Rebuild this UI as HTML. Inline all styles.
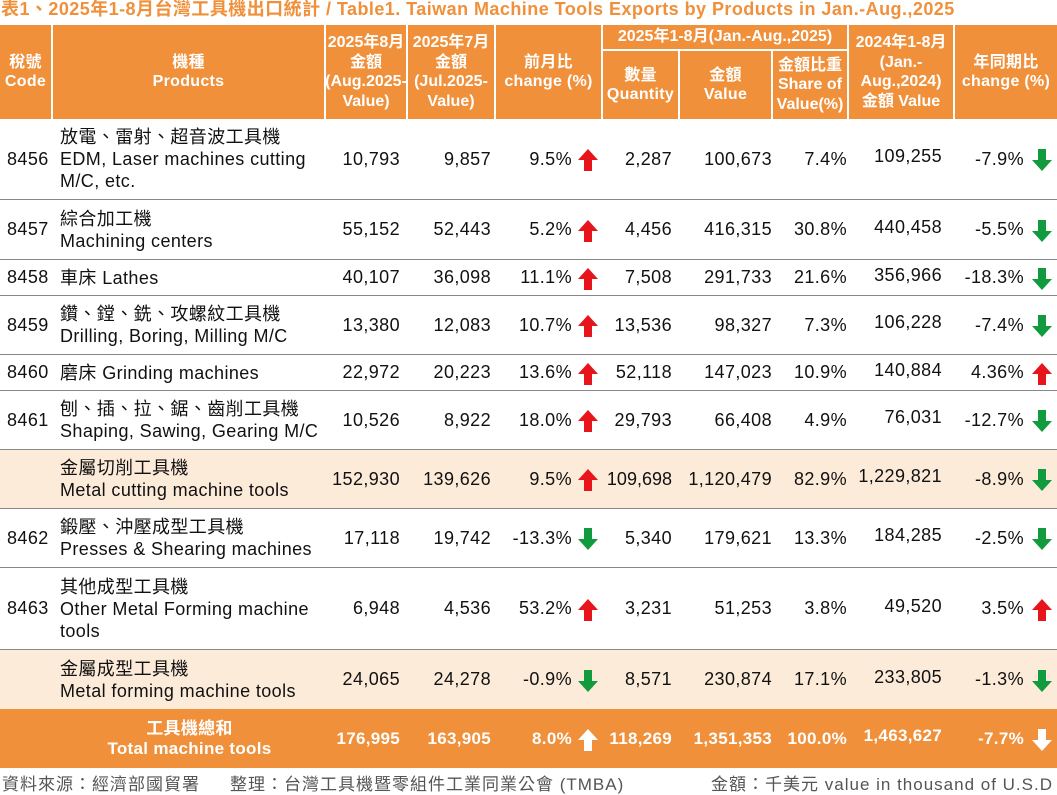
<!DOCTYPE html>
<html><head><meta charset="utf-8">
<style>
*{margin:0;padding:0;box-sizing:border-box}
body{width:1057px;height:793px;background:#fff;font-family:"Liberation Sans","Noto Sans CJK TC",sans-serif;position:relative;overflow:hidden;color:#111}
.title{position:absolute;left:1px;top:-1px;font-size:18px;letter-spacing:0.45px;font-weight:bold;color:#f0903a;white-space:nowrap;line-height:21px}
.hd{position:absolute;top:25px;left:0;width:1057px;height:94px;background:#f0903a}
.h{position:absolute;color:#fff;font-weight:bold;font-size:16px;letter-spacing:0.3px;line-height:19.5px;text-align:center;display:flex;align-items:center;justify-content:center;border-right:2px solid #fff}
.row{position:absolute;left:0;width:1057px;border-bottom:1px solid #888;font-size:18px;letter-spacing:0.4px}
.sh{background:#fdebd9}
.tot{background:#f0903a;color:#fff;font-weight:bold;border-bottom:none}
.c{position:absolute;top:0;bottom:0;display:flex;align-items:center;white-space:nowrap}
.r{justify-content:flex-end}
.p{line-height:22px}
svg{display:block;margin-top:2px}
.foot{position:absolute;top:770px;font-size:17px;letter-spacing:1px;color:#555;white-space:nowrap}
</style></head><body>
<div class="title">表1、2025年1-8月台灣工具機出口統計 / Table1. Taiwan Machine Tools Exports by Products in Jan.-Aug.,2025</div>
<div class="hd">
<div class="h" style="left:0;top:0;width:53px;height:94px">稅號<br>Code</div>
<div class="h" style="left:53px;top:0;width:273px;height:94px">機種<br>Products</div>
<div class="h" style="left:326px;top:0;width:82px;height:94px;letter-spacing:0">2025年8月<br>金額<br>(Aug.2025-<br>Value)</div>
<div class="h" style="left:408px;top:0;width:88px;height:94px;letter-spacing:0">2025年7月<br>金額<br>(Jul.2025-<br>Value)</div>
<div class="h" style="left:496px;top:0;width:107px;height:94px">前月比<br>change (%)</div>
<div class="h" style="left:603px;top:0;width:246px;height:26px;border-bottom:2px solid #fff;letter-spacing:0">2025年1-8月(Jan.-Aug.,2025)</div>
<div class="h" style="left:603px;top:26px;width:77px;height:68px">數量<br>Quantity</div>
<div class="h" style="left:680px;top:26px;width:93px;height:68px">金額<br>Value</div>
<div class="h" style="left:773px;top:26px;width:76px;height:68px;letter-spacing:0">金額比重<br>Share of<br>Value(%)</div>
<div class="h" style="left:849px;top:0;width:106px;height:94px;letter-spacing:0">2024年1-8月<br>(Jan.-<br>Aug.,2024)<br>金額 Value</div>
<div class="h" style="left:955px;top:0;width:102px;height:94px;border-right:none">年同期比<br>change (%)</div>
</div>

<div class="row" style="top:119px;height:81px">
<div class="c" style="left:7px">8456</div>
<div class="c p" style="left:60px">放電、雷射、超音波工具機<br>EDM, Laser machines cutting<br>M/C, etc.</div>
<div class="c r" style="right:657px">10,793</div><div class="c r" style="right:566px">9,857</div>
<div class="c r" style="right:485px">9.5%</div><div class="c" style="left:578px"><svg width="20" height="22"><polygon points="10,0 20,11 14,11 14,22 6,22 6,11 0,11" fill="#e8141c"/></svg></div>
<div class="c r" style="right:385px">2,287</div><div class="c r" style="right:285px">100,673</div><div class="c r" style="right:210px">7.4%</div>
<div class="c r" style="right:115px;padding-bottom:5px">109,255</div>
<div class="c r" style="right:33px">-7.9%</div><div class="c" style="left:1032px"><svg width="20" height="22"><polygon points="10,22 20,11 14,11 14,0 6,0 6,11 0,11" fill="#119a3e"/></svg></div>
</div>

<div class="row" style="top:200px;height:60px">
<div class="c" style="left:7px">8457</div>
<div class="c p" style="left:60px">綜合加工機<br>Machining centers</div>
<div class="c r" style="right:657px">55,152</div><div class="c r" style="right:566px">52,443</div>
<div class="c r" style="right:485px">5.2%</div><div class="c" style="left:578px"><svg width="20" height="22"><polygon points="10,0 20,11 14,11 14,22 6,22 6,11 0,11" fill="#e8141c"/></svg></div>
<div class="c r" style="right:385px">4,456</div><div class="c r" style="right:285px">416,315</div><div class="c r" style="right:210px">30.8%</div>
<div class="c r" style="right:115px;padding-bottom:5px">440,458</div>
<div class="c r" style="right:33px">-5.5%</div><div class="c" style="left:1032px"><svg width="20" height="22"><polygon points="10,22 20,11 14,11 14,0 6,0 6,11 0,11" fill="#119a3e"/></svg></div>
</div>

<div class="row" style="top:260px;height:36px">
<div class="c" style="left:7px">8458</div>
<div class="c p" style="left:60px">車床 Lathes</div>
<div class="c r" style="right:657px">40,107</div><div class="c r" style="right:566px">36,098</div>
<div class="c r" style="right:485px">11.1%</div><div class="c" style="left:578px"><svg width="20" height="22"><polygon points="10,0 20,11 14,11 14,22 6,22 6,11 0,11" fill="#e8141c"/></svg></div>
<div class="c r" style="right:385px">7,508</div><div class="c r" style="right:285px">291,733</div><div class="c r" style="right:210px">21.6%</div>
<div class="c r" style="right:115px;padding-bottom:5px">356,966</div>
<div class="c r" style="right:33px">-18.3%</div><div class="c" style="left:1032px"><svg width="20" height="22"><polygon points="10,22 20,11 14,11 14,0 6,0 6,11 0,11" fill="#119a3e"/></svg></div>
</div>

<div class="row" style="top:296px;height:59px">
<div class="c" style="left:7px">8459</div>
<div class="c p" style="left:60px">鑽、鏜、銑、攻螺紋工具機<br>Drilling, Boring, Milling M/C</div>
<div class="c r" style="right:657px">13,380</div><div class="c r" style="right:566px">12,083</div>
<div class="c r" style="right:485px">10.7%</div><div class="c" style="left:578px"><svg width="20" height="22"><polygon points="10,0 20,11 14,11 14,22 6,22 6,11 0,11" fill="#e8141c"/></svg></div>
<div class="c r" style="right:385px">13,536</div><div class="c r" style="right:285px">98,327</div><div class="c r" style="right:210px">7.3%</div>
<div class="c r" style="right:115px;padding-bottom:5px">106,228</div>
<div class="c r" style="right:33px">-7.4%</div><div class="c" style="left:1032px"><svg width="20" height="22"><polygon points="10,22 20,11 14,11 14,0 6,0 6,11 0,11" fill="#119a3e"/></svg></div>
</div>

<div class="row" style="top:355px;height:36px">
<div class="c" style="left:7px">8460</div>
<div class="c p" style="left:60px">磨床 Grinding machines</div>
<div class="c r" style="right:657px">22,972</div><div class="c r" style="right:566px">20,223</div>
<div class="c r" style="right:485px">13.6%</div><div class="c" style="left:578px"><svg width="20" height="22"><polygon points="10,0 20,11 14,11 14,22 6,22 6,11 0,11" fill="#e8141c"/></svg></div>
<div class="c r" style="right:385px">52,118</div><div class="c r" style="right:285px">147,023</div><div class="c r" style="right:210px">10.9%</div>
<div class="c r" style="right:115px;padding-bottom:5px">140,884</div>
<div class="c r" style="right:33px">4.36%</div><div class="c" style="left:1032px"><svg width="20" height="22"><polygon points="10,0 20,11 14,11 14,22 6,22 6,11 0,11" fill="#e8141c"/></svg></div>
</div>

<div class="row" style="top:391px;height:59px">
<div class="c" style="left:7px">8461</div>
<div class="c p" style="left:60px">刨、插、拉、鋸、齒削工具機<br>Shaping, Sawing, Gearing M/C</div>
<div class="c r" style="right:657px">10,526</div><div class="c r" style="right:566px">8,922</div>
<div class="c r" style="right:485px">18.0%</div><div class="c" style="left:578px"><svg width="20" height="22"><polygon points="10,0 20,11 14,11 14,22 6,22 6,11 0,11" fill="#e8141c"/></svg></div>
<div class="c r" style="right:385px">29,793</div><div class="c r" style="right:285px">66,408</div><div class="c r" style="right:210px">4.9%</div>
<div class="c r" style="right:115px;padding-bottom:5px">76,031</div>
<div class="c r" style="right:33px">-12.7%</div><div class="c" style="left:1032px"><svg width="20" height="22"><polygon points="10,22 20,11 14,11 14,0 6,0 6,11 0,11" fill="#119a3e"/></svg></div>
</div>

<div class="row sh" style="top:450px;height:59px">
<div class="c p" style="left:60px">金屬切削工具機<br>Metal cutting machine tools</div>
<div class="c r" style="right:657px">152,930</div><div class="c r" style="right:566px">139,626</div>
<div class="c r" style="right:485px">9.5%</div><div class="c" style="left:578px"><svg width="20" height="22"><polygon points="10,0 20,11 14,11 14,22 6,22 6,11 0,11" fill="#e8141c"/></svg></div>
<div class="c r" style="right:385px;letter-spacing:0">109,698</div><div class="c r" style="right:285px">1,120,479</div><div class="c r" style="right:210px">82.9%</div>
<div class="c r" style="right:115px;padding-bottom:5px">1,229,821</div>
<div class="c r" style="right:33px">-8.9%</div><div class="c" style="left:1032px"><svg width="20" height="22"><polygon points="10,22 20,11 14,11 14,0 6,0 6,11 0,11" fill="#119a3e"/></svg></div>
</div>

<div class="row" style="top:509px;height:59px">
<div class="c" style="left:7px">8462</div>
<div class="c p" style="left:60px">鍛壓、沖壓成型工具機<br>Presses &amp; Shearing machines</div>
<div class="c r" style="right:657px">17,118</div><div class="c r" style="right:566px">19,742</div>
<div class="c r" style="right:485px">-13.3%</div><div class="c" style="left:578px"><svg width="20" height="22"><polygon points="10,22 20,11 14,11 14,0 6,0 6,11 0,11" fill="#119a3e"/></svg></div>
<div class="c r" style="right:385px">5,340</div><div class="c r" style="right:285px">179,621</div><div class="c r" style="right:210px">13.3%</div>
<div class="c r" style="right:115px;padding-bottom:5px">184,285</div>
<div class="c r" style="right:33px">-2.5%</div><div class="c" style="left:1032px"><svg width="20" height="22"><polygon points="10,22 20,11 14,11 14,0 6,0 6,11 0,11" fill="#119a3e"/></svg></div>
</div>

<div class="row" style="top:568px;height:82px">
<div class="c" style="left:7px">8463</div>
<div class="c p" style="left:60px">其他成型工具機<br>Other Metal Forming machine<br>tools</div>
<div class="c r" style="right:657px">6,948</div><div class="c r" style="right:566px">4,536</div>
<div class="c r" style="right:485px">53.2%</div><div class="c" style="left:578px"><svg width="20" height="22"><polygon points="10,0 20,11 14,11 14,22 6,22 6,11 0,11" fill="#e8141c"/></svg></div>
<div class="c r" style="right:385px">3,231</div><div class="c r" style="right:285px">51,253</div><div class="c r" style="right:210px">3.8%</div>
<div class="c r" style="right:115px;padding-bottom:5px">49,520</div>
<div class="c r" style="right:33px">3.5%</div><div class="c" style="left:1032px"><svg width="20" height="22"><polygon points="10,0 20,11 14,11 14,22 6,22 6,11 0,11" fill="#e8141c"/></svg></div>
</div>

<div class="row sh" style="top:650px;height:59px;border-bottom:none">
<div class="c p" style="left:60px">金屬成型工具機<br>Metal forming machine tools</div>
<div class="c r" style="right:657px">24,065</div><div class="c r" style="right:566px">24,278</div>
<div class="c r" style="right:485px">-0.9%</div><div class="c" style="left:578px"><svg width="20" height="22"><polygon points="10,22 20,11 14,11 14,0 6,0 6,11 0,11" fill="#119a3e"/></svg></div>
<div class="c r" style="right:385px">8,571</div><div class="c r" style="right:285px">230,874</div><div class="c r" style="right:210px">17.1%</div>
<div class="c r" style="right:115px;padding-bottom:5px">233,805</div>
<div class="c r" style="right:33px">-1.3%</div><div class="c" style="left:1032px"><svg width="20" height="22"><polygon points="10,22 20,11 14,11 14,0 6,0 6,11 0,11" fill="#119a3e"/></svg></div>
</div>

<div class="row tot" style="top:709px;height:59px;font-size:17px;letter-spacing:0.3px">
<div class="c" style="left:53px;width:273px;justify-content:center;text-align:center;line-height:20px">工具機總和<br>Total machine tools</div>
<div class="c r" style="right:657px">176,995</div><div class="c r" style="right:566px">163,905</div>
<div class="c r" style="right:485px">8.0%</div><div class="c" style="left:578px"><svg width="20" height="22"><polygon points="10,0 20,11 14,11 14,22 6,22 6,11 0,11" fill="#fff"/></svg></div>
<div class="c r" style="right:385px">118,269</div><div class="c r" style="right:285px">1,351,353</div><div class="c r" style="right:210px">100.0%</div>
<div class="c r" style="right:115px;padding-bottom:5px">1,463,627</div>
<div class="c r" style="right:33px">-7.7%</div><div class="c" style="left:1032px"><svg width="20" height="22"><polygon points="10,22 20,11 14,11 14,0 6,0 6,11 0,11" fill="#fff"/></svg></div>
</div>

<div class="foot" style="left:2px">資料來源：經濟部國貿署</div>
<div class="foot" style="left:230px">整理：台灣工具機暨零組件工業同業公會 (TMBA)</div>
<div class="foot" style="right:4px">金額：千美元 value in thousand of U.S.D</div>
</body></html>
